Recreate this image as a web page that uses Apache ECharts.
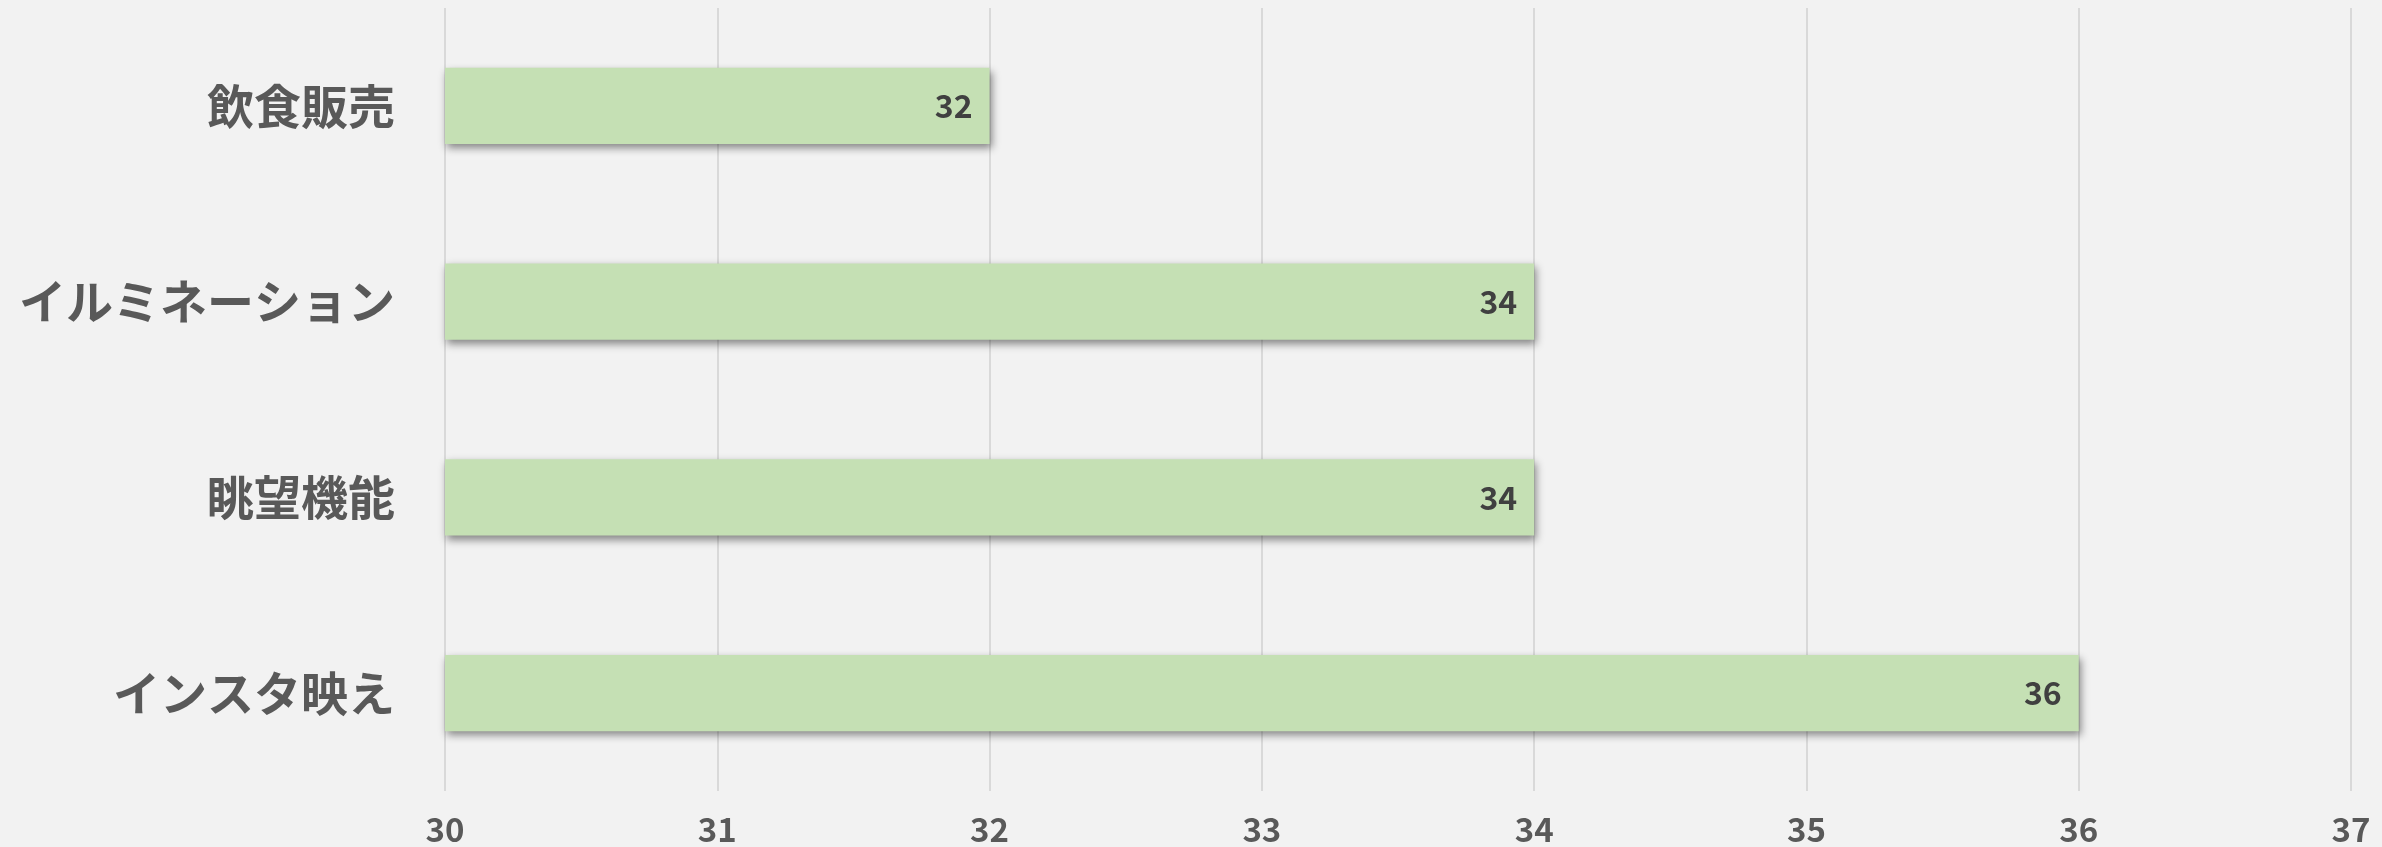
<!DOCTYPE html>
<html>
<head>
<meta charset="utf-8">
<script src="https://cdn.jsdelivr.net/npm/echarts@6/dist/echarts.min.js"></script>
<style>
  html, body { margin: 0; padding: 0; background: #f2f2f2; }
  #myChart { width: 2382px; height: 847px; }
</style>
</head>
<body>
<div id="myChart"></div>
<script>
// データ
var categories = ["飲食販売", "イルミネーション", "眺望機能", "インスタ映え"];
var values = [32, 34, 34, 36];
var axisMin = 30;
var axisMax = 37;

var myChart = echarts.init(document.getElementById("myChart"));
myChart.setOption({
  backgroundColor: "#f2f2f2",
  animation: false,
  grid: {
    left: 445,
    right: 31,
    top: 8,
    bottom: 56,
    containLabel: false
  },
  xAxis: {
    type: "value",
    min: axisMin,
    max: axisMax,
    interval: 1,
    axisLine: { show: false },
    axisTick: { show: false },
    splitLine: { show: true, lineStyle: { color: "#d9d9d9", width: 2 } },
    axisLabel: {
      margin: 22,
      fontSize: 33,
      fontWeight: "bold",
      color: "#595959",
      fontFamily: "Noto Sans CJK JP"
    }
  },
  yAxis: {
    type: "category",
    data: categories,
    inverse: true,
    axisLine: { show: false },
    axisTick: { show: false },
    splitLine: { show: false },
    axisLabel: {
      margin: 50,
      fontSize: 47,
      fontWeight: "bold",
      color: "#595959",
      fontFamily: "Noto Sans CJK JP"
    }
  },
  series: [
    {
      type: "bar",
      data: values,
      barWidth: "39%",
      itemStyle: {
        color: "#c5e0b4",
        shadowColor: "rgba(0,0,0,0.45)",
        shadowBlur: 8,
        shadowOffsetX: 2,
        shadowOffsetY: 4
      },
      label: {
        show: true,
        position: "insideRight",
        distance: 17,
        fontSize: 32,
        fontWeight: "bold",
        color: "#404040",
        fontFamily: "Noto Sans CJK JP"
      }
    }
  ]
});
</script>
</body>
</html>
